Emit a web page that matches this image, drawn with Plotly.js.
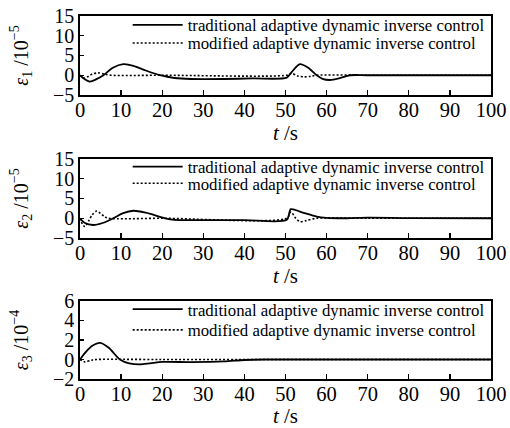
<!DOCTYPE html>
<html>
<head>
<meta charset="utf-8">
<script src="https://cdn.plot.ly/plotly-3.0.1.min.js"></script>
<style>html,body{margin:0;padding:0;background:#fff;}#chart{width:510px;height:428px;}</style>
</head>
<body>
<div id="chart"></div>
<script>
// Series names
const seriesNames = ["traditional adaptive dynamic inverse control", "modified adaptive dynamic inverse control"];

// Panel 1: ε1 (×10^-5)
const t1Trad = [0, 1, 2.4, 4, 5.7, 8, 10.5, 13, 16, 19.5, 23, 27, 35, 42, 50.3, 51.5, 53.5, 55.5, 57.6, 59, 60.8, 63, 65.7, 70, 100];
const e1Trad = [0, -0.9, -1.6, -1.0, 0, 1.9, 2.8, 2.4, 1.2, 0, -0.7, -0.95, -0.95, -0.8, -0.6, 0.8, 2.8, 1.9, 0, -0.9, -1.2, -0.8, 0, 0, 0];
const t1Mod = [0, 1, 2, 3, 4.5, 6, 7.5, 20, 50.3, 51.5, 53, 54.5, 56, 57.6, 70, 100];
const e1Mod = [0, -0.7, -0.3, 0.3, 0.6, 0.3, 0, 0, 0, 0.5, -0.2, -0.4, -0.3, 0, 0, 0];

// Panel 2: ε2 (×10^-5)
const t2Trad = [0, 1.2, 3.2, 5.5, 8.1, 10.5, 13, 16, 20.7, 23, 30, 40, 50.3, 51.3, 54, 57.6, 60, 65, 70, 80, 100];
const e2Trad = [0, -1.2, -1.7, -1.2, 0, 1.3, 1.9, 1.4, 0, -0.4, -0.45, -0.45, -0.4, 2.3, 1.5, 0.4, 0.1, 0, 0.15, 0.05, 0];
const t2Mod = [0, 0.6, 1.2, 2.2, 3, 4, 5, 6, 6.9, 20, 50.3, 51.3, 52.5, 53.5, 55, 57.6, 70, 100];
const e2Mod = [0, -1.5, -2.1, -0.5, 0.9, 1.8, 1.2, 0.4, 0, 0, 0, 1.6, 0, -0.85, -0.6, 0, 0, 0];

// Panel 3: ε3 (×10^-4)
const t3Trad = [0, 1.5, 3, 4.9, 7, 9.7, 12, 14.6, 17, 20, 27, 35, 40, 45, 100];
const e3Trad = [0, 0.8, 1.4, 1.7, 1.2, 0, -0.4, -0.5, -0.4, -0.25, -0.27, -0.2, -0.05, 0, 0];
const t3Mod = [0, 1.2, 2.8, 4, 20, 100];
const e3Mod = [0, -0.24, -0.07, 0, 0, 0];

// Axis settings
const xTicks = [0, 10, 20, 30, 40, 50, 60, 70, 80, 90, 100];
const yTicks12 = [-5, 0, 5, 10, 15];
const yTicks3 = [-2, 0, 2, 4, 6];
const yTitles = ["<i>ε</i><sub>1</sub> /10<sup>−5</sup>", "<i>ε</i><sub>2</sub> /10<sup>−5</sup>", "<i>ε</i><sub>3</sub> /10<sup>−4</sup>"];
const xTitle = "<i>t</i> /s";

const FONT = "'Liberation Serif', 'Times New Roman', 'DejaVu Serif', serif";

// legend vertical positions (paper fraction), one legend per entry
const legY = [0.9752, 0.9256, 0.5848, 0.5391, 0.1920, 0.1350];

function mk(x, y, name, dash, idx, legIdx) {
  const s = idx === 1 ? '' : String(idx);
  return {
    x: x, y: y, name: name, type: 'scatter', mode: 'lines',
    xaxis: 'x' + s, yaxis: 'y' + s,
    legend: legIdx === 1 ? 'legend' : 'legend' + legIdx,
    line: {color: '#000', width: dash === 'solid' ? 1.8 : 1.6, dash: dash, shape: 'spline', smoothing: 0.8},
    showlegend: true, hoverinfo: 'skip'
  };
}

const data = [
  mk(t1Trad, e1Trad, seriesNames[0], 'solid', 1, 1),
  mk(t1Mod, e1Mod, seriesNames[1], '2px,2px', 1, 2),
  mk(t2Trad, e2Trad, seriesNames[0], 'solid', 2, 3),
  mk(t2Mod, e2Mod, seriesNames[1], '2px,2px', 2, 4),
  mk(t3Trad, e3Trad, seriesNames[0], 'solid', 3, 5),
  mk(t3Mod, e3Mod, seriesNames[1], '2px,2px', 3, 6)
];

const doms = [[0.7824, 1], [0.3884, 0.6061], [0, 0.2149]];

function xax(anchor) {
  return {
    range: [0, 100], tickvals: xTicks, ticks: 'inside', ticklen: 5, tickwidth: 1.3, tickcolor: '#000',
    showline: true, linecolor: '#000', linewidth: 1.8, mirror: true, showgrid: false, zeroline: false,
    tickfont: {family: FONT, size: 20.5, color: '#000'}, anchor: anchor,
    title: {text: xTitle, font: {family: FONT, size: 21, color: '#000'}, standoff: 0},
    ticklabelstandoff: -4
  };
}
function yax(range, ticks, dom, title, anchor) {
  return {
    range: range, tickvals: ticks, ticks: 'inside', ticklen: 4, tickwidth: 1.3, tickcolor: '#000',
    showline: true, linecolor: '#000', linewidth: 1.8, mirror: true, showgrid: false, zeroline: false,
    tickfont: {family: FONT, size: 20, color: '#000'}, domain: dom, anchor: anchor,
    title: {text: title, font: {family: FONT, size: 20, color: '#000'}, standoff: 19}
  };
}
function leg(y) {
  return {
    x: 0.116, xanchor: 'left', y: y, yanchor: 'middle',
    bgcolor: 'rgba(0,0,0,0)', borderwidth: 0,
    font: {family: FONT, size: 16.8, color: '#000'},
    itemwidth: 50, tracegroupgap: 0
  };
}

const layout = {
  width: 510, height: 428,
  margin: {l: 80, r: 19, t: 16, b: 49, autoexpand: false},
  paper_bgcolor: '#fff', plot_bgcolor: '#fff',
  showlegend: true,
  font: {family: FONT, color: '#000'},
  xaxis: xax('y'), yaxis: yax([-5, 15], yTicks12, doms[0], yTitles[0], 'x'),
  xaxis2: xax('y2'), yaxis2: yax([-5, 15], yTicks12, doms[1], yTitles[1], 'x2'),
  xaxis3: xax('y3'), yaxis3: yax([-2, 6], yTicks3, doms[2], yTitles[2], 'x3'),
  legend: leg(legY[0]), legend2: leg(legY[1]), legend3: leg(legY[2]),
  legend4: leg(legY[3]), legend5: leg(legY[4]), legend6: leg(legY[5])
};

Plotly.newPlot('chart', data, layout, {staticPlot: true, displayModeBar: false});
</script>
</body>
</html>
